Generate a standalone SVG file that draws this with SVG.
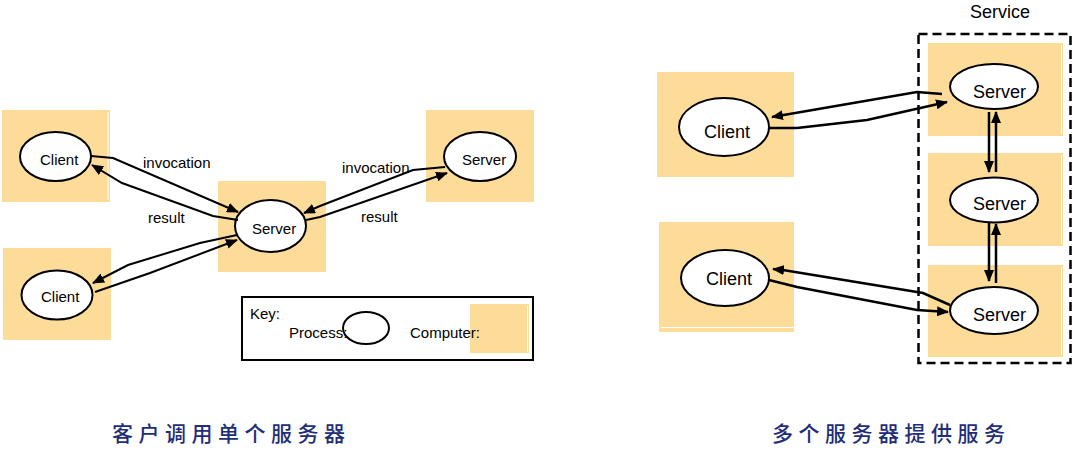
<svg xmlns="http://www.w3.org/2000/svg" width="1078" height="466" viewBox="0 0 1078 466">
<defs>
<marker id="ah" markerUnits="userSpaceOnUse" markerWidth="12" markerHeight="10" refX="11" refY="5" orient="auto">
<path d="M0,0 L12,5 L0,10 z" fill="#000"/>
</marker>
<style>
.box{fill:#FDDC99}
.ell{fill:#fff;stroke:#000;stroke-width:2}
.t{font-family:"Liberation Sans",Arial,sans-serif;fill:#000}
.s{font-size:15px}
.b{font-size:18px}
.c{fill:none;stroke:#000;stroke-width:2;marker-end:url(#ah)}
.c2{fill:none;stroke:#000;stroke-width:2.5;marker-end:url(#ah)}
.wl{stroke:#fff;stroke-width:1}
.cap{font-family:"Noto Sans CJK SC","Noto Serif CJK SC",serif;font-size:21px;font-weight:500;fill:#1F2E78;letter-spacing:5.5px}
</style>
</defs>
<rect width="1078" height="466" fill="#fff"/>

<g id="client1">
<rect class="box" x="2" y="110" width="108" height="92"/>
<line class="wl" x1="108" y1="112" x2="108" y2="200"/>
<ellipse class="ell" cx="55.5" cy="156.5" rx="35.5" ry="24.5"/>
<text class="t s" x="40" y="165">Client</text>
</g>
<g id="client2">
<rect class="box" x="3" y="248" width="108" height="92"/>
<ellipse class="ell" cx="57" cy="295" rx="35.5" ry="24.5"/>
<text class="t s" x="41" y="302">Client</text>
</g>
<g id="server-mid">
<rect class="box" x="218" y="181" width="108" height="91"/>
<ellipse class="ell" cx="270.5" cy="226" rx="35.5" ry="26"/>
<text class="t s" x="252" y="234">Server</text>
</g>
<g id="server-right">
<rect class="box" x="426" y="110" width="108" height="92"/>
<ellipse class="ell" cx="480" cy="156.5" rx="36" ry="24.5"/>
<text class="t s" x="462" y="165">Server</text>
</g>

<g id="key">
<rect x="242" y="297" width="291" height="63" fill="#fff" stroke="#000" stroke-width="2"/>
<rect class="box" x="470" y="304" width="59" height="49"/>
<line class="wl" x1="527.5" y1="306" x2="527.5" y2="352"/>
<text class="t s" x="250" y="319">Key:</text>
<text class="t s" x="289" y="338">Process:</text>
<ellipse cx="366" cy="328" rx="23" ry="16" fill="none" stroke="#000" stroke-width="2"/>
<text class="t s" x="410" y="338">Computer:</text>
</g>

<g id="service">
<text class="t b" x="970" y="18">Service</text>
<rect x="918.5" y="34" width="152" height="329" fill="none" stroke="#000" stroke-width="2.5" stroke-dasharray="9,5"/>
</g>
<g id="client3">
<rect class="box" x="657" y="72" width="137" height="105"/>
<ellipse class="ell" cx="724" cy="127" rx="45" ry="29"/>
<text class="t b" x="704" y="138">Client</text>
</g>
<g id="client4">
<rect class="box" x="659" y="222" width="135" height="110"/>
<line class="wl" x1="661" y1="327.5" x2="793" y2="327.5"/>
<ellipse class="ell" cx="725" cy="278" rx="44" ry="28"/>
<text class="t b" x="706" y="285">Client</text>
</g>
<g id="server1">
<rect class="box" x="928" y="43" width="135" height="93"/>
<line class="wl" x1="1061.5" y1="45" x2="1061.5" y2="134"/>
<ellipse class="ell" cx="994" cy="86.5" rx="44" ry="22.5"/>
<text class="t b" x="973" y="98">Server</text>
</g>
<g id="server2">
<rect class="box" x="928" y="153" width="135" height="93"/>
<line class="wl" x1="1061.5" y1="155" x2="1061.5" y2="244"/>
<ellipse class="ell" cx="994" cy="200" rx="44" ry="22.5"/>
<text class="t b" x="973" y="210">Server</text>
</g>
<g id="server3">
<rect class="box" x="928" y="265" width="135" height="92"/>
<line class="wl" x1="1061.5" y1="267" x2="1061.5" y2="355"/>
<ellipse class="ell" cx="994" cy="310.5" rx="44" ry="23.5"/>
<text class="t b" x="973" y="321">Server</text>
</g>

<g id="connectors">
<path class="c" d="M91,156 L113,158 L238,212"/>
<path class="c" d="M238,220 L213,216 L122,183 L92,165"/>
<path class="c" d="M237,235 L200,243 L128,265 L93,283"/>
<path class="c" d="M95,292 L150,273 L237,240"/>
<path class="c" d="M445,167 L413,170 L320,206 L304,213"/>
<path class="c" d="M306,220 L320,217 L447,173"/>
<text class="t s" x="143" y="168">invocation</text>
<text class="t s" x="148" y="223">result</text>
<text class="t s" x="342" y="173">invocation</text>
<text class="t s" x="361" y="222">result</text>

<path class="c2" d="M942,94 L917,92 L772,117"/>
<path class="c2" d="M769,128 L797,128 L867,120 L947,102"/>
<path class="c2" d="M989,112 L989,172"/>
<path class="c2" d="M996,172 L996,112"/>
<path class="c2" d="M989,222 L989,281"/>
<path class="c2" d="M996,283 L996,224"/>
<path class="c2" d="M950,305 L923,293 L783,270 L773,269"/>
<path class="c2" d="M769,280 L797,287 L917,310 L948,312"/>
</g>

<text class="cap" x="112" y="441">客户调用单个服务器</text>
<text class="cap" x="772" y="441">多个服务器提供服务</text>
</svg>
